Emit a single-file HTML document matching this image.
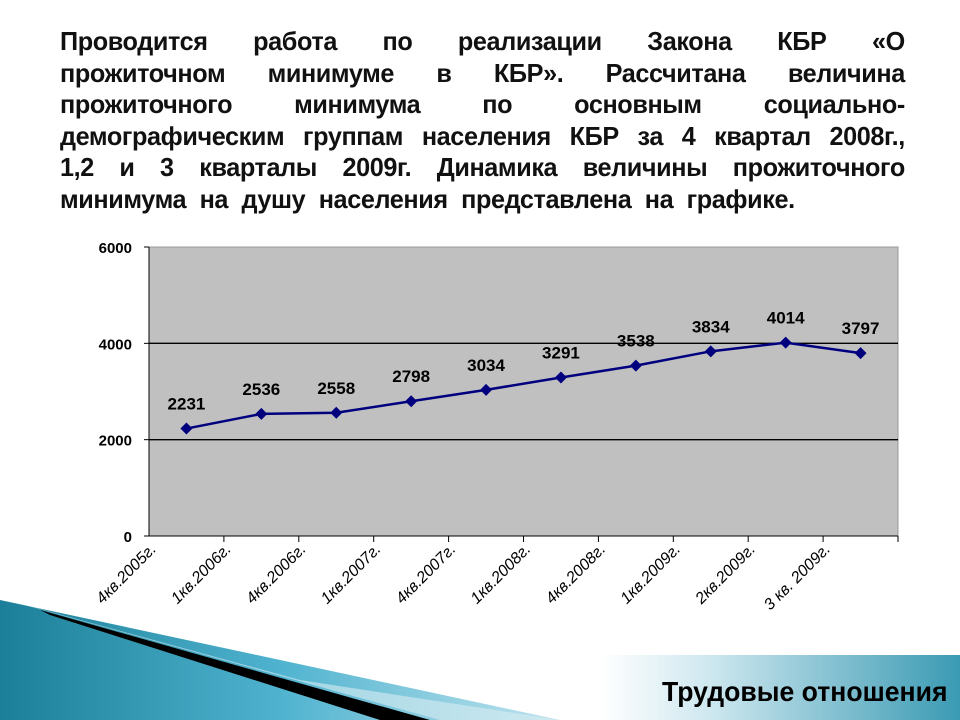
<!DOCTYPE html>
<html><head><meta charset="utf-8"><style>
body{margin:0;width:960px;height:720px;overflow:hidden;background:#fff;position:relative;font-family:"Liberation Sans","Noto Sans CJK SC",sans-serif}
#title{position:absolute;left:60px;top:26px;width:871px;font-weight:bold;font-size:26px;line-height:31.6px;color:#111;transform:scaleX(0.97);transform-origin:0 0;letter-spacing:-0.4px}
#title div{text-align:justify;text-align-last:justify;white-space:nowrap}
#title div.last{text-align-last:left;word-spacing:7px}
svg{position:absolute;left:0;top:0}
#footer{position:absolute;left:662px;top:676px;width:340px;font-size:28px;font-weight:bold;color:#000;transform:scaleX(0.95);transform-origin:0 0;white-space:nowrap}
</style></head><body>
<svg width="960" height="720">
<defs><linearGradient id="tg" x1="0" y1="0" x2="1" y2="0"><stop offset="0" stop-color="#1c7f99"/><stop offset="0.5" stop-color="#4fb3cf"/><stop offset="1" stop-color="#bfe3ee"/></linearGradient>
<linearGradient id="rg" x1="0" y1="0" x2="1" y2="0"><stop offset="0" stop-color="#ffffff"/><stop offset="0.3" stop-color="#cfe8f0"/><stop offset="1" stop-color="#3a9ab3"/></linearGradient></defs>
<polygon points="0,600 560,720 0,720" fill="url(#tg)"/>
<polygon points="40,610 430,720 380,720 50,615" fill="#000"/>
<polygon points="0,598 300,680 560,720 440,720 60,615" fill="#d8ecf2" opacity="0.6"/>
<rect x="600" y="655" width="360" height="65" fill="url(#rg)"/>
</svg>
<div id="title">
<div>Проводится работа по реализации Закона КБР «О</div>
<div>прожиточном минимуме в КБР». Рассчитана величина</div>
<div>прожиточного минимума по основным социально-</div>
<div>демографическим группам населения КБР за 4 квартал 2008г.,</div>
<div>1,2 и 3 кварталы 2009г. Динамика величины прожиточного</div>
<div class="last">минимума на душу населения представлена на графике.</div>
</div>
<svg id="chart" width="960" height="720"></svg>
<div id="footer">Трудовые отношения</div>
<script>
const categories=["4кв.2005г.","1кв.2006г.","4кв.2006г.","1кв.2007г.","4кв.2007г.","1кв.2008г.","4кв.2008г.","1кв.2009г.","2кв.2009г.","3 кв. 2009г."];
const values=[2231,2536,2558,2798,3034,3291,3538,3834,4014,3797];
const yTicks=[0,2000,4000,6000];
const svg=document.getElementById('chart');
const NS='http://www.w3.org/2000/svg';
const L=149,R=898,T=247,B=536,yMax=6000;
const bw=(R-L)/categories.length;
const xs=i=>L+bw*(i+0.5);
const ys=v=>B-(v/yMax)*(B-T);
function mk(t,a){const e=document.createElementNS(NS,t);for(const k in a)e.setAttribute(k,a[k]);svg.appendChild(e);return e;}
let e=mk('rect',{x:L,y:T,width:R-L,height:B-T,fill:'#c0c0c0',stroke:'#999','stroke-width':1});


yTicks.forEach(v=>{
 if(v>0&&v<yMax){const g=mk('line',{x1:L,x2:R,y1:ys(v),y2:ys(v),stroke:'#000','stroke-width':1.3});
 
 }
 mk('line',{x1:L-5,x2:L,y1:ys(v),y2:ys(v),stroke:'#000'});
 const t=mk('text',{x:L-17,y:ys(v)+6,'text-anchor':'end','font-size':15,'font-weight':'bold','font-family':'Liberation Sans, sans-serif'});
 t.textContent=v;
 
 
});
mk('line',{x1:L,x2:L,y1:T,y2:B,stroke:'#000'});
mk('line',{x1:L,x2:R,y1:B,y2:B,stroke:'#000'});
categories.forEach((c,i)=>{
 const tx=L+bw*(i+1);
 mk('line',{x1:tx,x2:tx,y1:B,y2:B+6,stroke:'#000'});
 const x0=L+bw*i+8;
 const t=mk('text',{x:x0,y:B+14,'text-anchor':'end','font-size':16,'font-style':'italic','font-family':'Liberation Sans, sans-serif',transform:`rotate(-45 ${x0} ${B+14})`});
 t.textContent=c;
 
 
});
const pl=mk('polyline',{points:values.map((v,i)=>xs(i)+','+ys(v)).join(' '),fill:'none',stroke:'#00007f','stroke-width':2.5});


values.forEach((v,i)=>{
 const x=xs(i),y=ys(v);
 const m=mk('polygon',{points:`${x},${y-6} ${x+6},${y} ${x},${y+6} ${x-6},${y}`,fill:'#00007f'});
 
 
 const t=mk('text',{x:x,y:y-19,'text-anchor':'middle','font-size':17,'font-weight':'bold','font-family':'Liberation Sans, sans-serif'});
 t.textContent=v;
 
 
});
</script>
</body></html>
